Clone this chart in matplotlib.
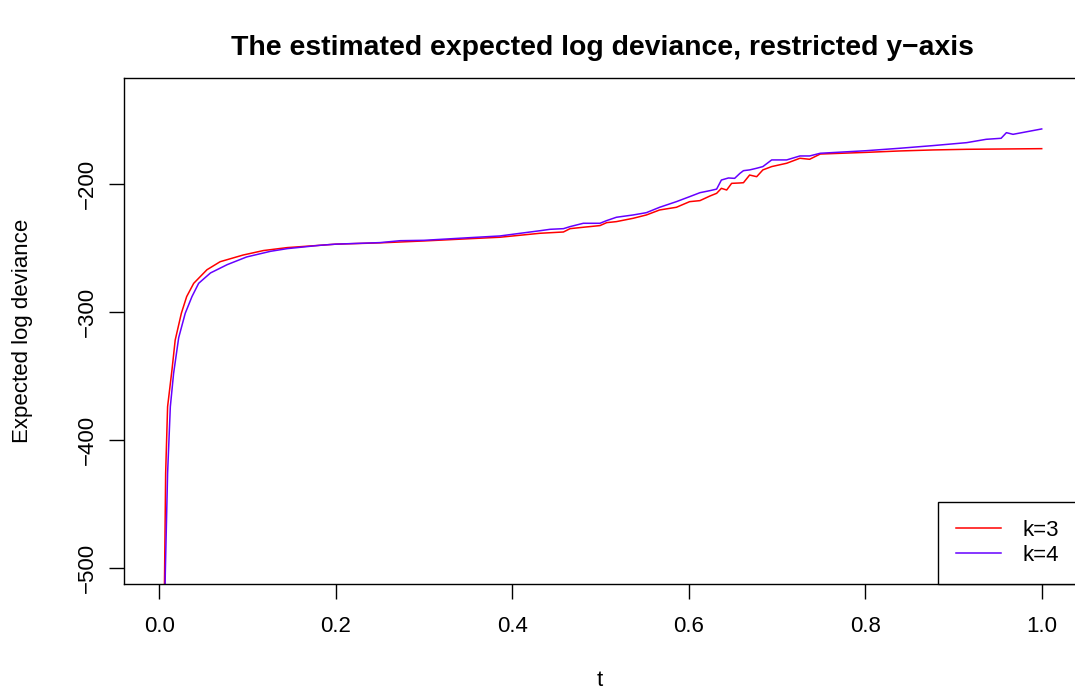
import matplotlib
matplotlib.use("Agg")
import matplotlib.pyplot as plt

plt.rcParams['font.family'] = ['Liberation Sans', 'DejaVu Sans']

# estimated expected log deviance, k=3
t_k3 = [0.005, 0.006, 0.0072, 0.0094, 0.0144, 0.018, 0.025, 0.031, 0.039, 0.054,
        0.069, 0.095, 0.118, 0.145, 0.182, 0.2, 0.25, 0.3, 0.35, 0.386,
        0.4315, 0.458, 0.4655, 0.4805, 0.4994, 0.507, 0.518, 0.537, 0.552, 0.567,
        0.586, 0.601, 0.6127, 0.624, 0.6316, 0.637, 0.643, 0.6486, 0.658, 0.662,
        0.669, 0.677, 0.684, 0.694, 0.711, 0.726, 0.737, 0.749, 0.801, 0.839,
        0.877, 0.915, 1.0]
dev_k3 = [-560, -504, -426, -374, -345, -322, -301, -288, -277.6, -267,
          -260.7, -255.5, -252, -249.7, -247.9, -247, -246, -244.5, -242.8, -241.6,
          -238.5, -237.5, -234.9, -233.8, -232.5, -230.2, -229.4, -226.8, -224.2, -220.3,
          -218.2, -213.8, -213, -209.4, -207.3, -203.4, -204.7, -199.5, -199.2, -199,
          -193, -194.3, -189, -186.4, -183.8, -179.9, -180.7, -176.6, -175.3, -174.2,
          -173.4, -172.9, -172.4]

# estimated expected log deviance, k=4
t_k4 = [0.0055, 0.0068, 0.0094, 0.0125, 0.0162, 0.022, 0.0294, 0.037, 0.0446, 0.058,
        0.077, 0.099, 0.126, 0.145, 0.182, 0.2, 0.25, 0.273, 0.3, 0.35,
        0.386, 0.4315, 0.443, 0.458, 0.4655, 0.4805, 0.4994, 0.507, 0.518, 0.537,
        0.552, 0.567, 0.586, 0.601, 0.6127, 0.624, 0.6316, 0.637, 0.645, 0.652,
        0.658, 0.662, 0.669, 0.677, 0.684, 0.694, 0.711, 0.726, 0.737, 0.749,
        0.801, 0.839, 0.877, 0.915, 0.937, 0.954, 0.96, 0.9675, 1.0]
dev_k4 = [-560, -504, -426, -374, -348, -320, -301, -288, -277.6, -269.5,
          -263, -257, -252.6, -250.5, -247.9, -247, -245.8, -244.3, -244, -242,
          -240.6, -236.5, -235.4, -234.9, -233.3, -230.7, -230.7, -228.6, -226, -224.2,
          -222.4, -218.2, -213.8, -209.9, -206.8, -205.2, -204, -196.9, -195.3, -195.6,
          -191.7, -189.6, -189, -187.7, -186.4, -181.2, -181.2, -178.1, -178.1, -176,
          -174, -172.1, -170, -167.7, -165.1, -164.3, -159.9, -161.2, -157]

x_ticks = [0.0, 0.2, 0.4, 0.6, 0.8, 1.0]
x_labels = ['0.0', '0.2', '0.4', '0.6', '0.8', '1.0']
y_ticks = [-500, -400, -300, -200]
y_labels = ['\u2212500', '\u2212400', '\u2212300', '\u2212200']

W, H = 1075, 693
fig = plt.figure(figsize=(W / 100, H / 100), dpi=100)
ax = fig.add_axes([124 / W, 1 - 584 / H, (1077 - 124) / W, (584 - 78) / H])

ax.plot(t_k3, dev_k3, color='#FF0000', lw=1.1, label='k=3')
ax.plot(t_k4, dev_k4, color='#6600FF', lw=1.1, label='k=4')

ax.set_xlim(-0.04, 1.04)
ax.set_ylim(-512.5, -117.2)
ax.set_xticks(x_ticks)
ax.set_xticklabels(x_labels)
ax.set_yticks(y_ticks)
ax.set_yticklabels(y_labels, rotation=90, va='center')
ax.tick_params(axis='both', length=10.8, width=1, labelsize=16, color='black')
ax.tick_params(axis='x', pad=12)
ax.tick_params(axis='y', pad=8)
for s in ax.spines.values():
    s.set_linewidth(1)
    s.set_color('black')

fig.text(602 / W, 1 - 48 / H, 'The estimated expected log deviance, restricted y\u2212axis',
         ha='center', va='center', weight='bold', size=20.4)
fig.text(23 / W, 1 - 331 / H, 'Expected log deviance', rotation=90,
         ha='center', va='center', size=16)
fig.text(600 / W, 1 - 680 / H, 't', ha='center', va='center', size=16)

leg = ax.legend(loc='lower right', borderaxespad=0, fancybox=False, edgecolor='black',
                framealpha=1, fontsize=16, handlelength=2.0, handletextpad=1.0,
                borderpad=0.8, labelspacing=0.2)
leg.get_frame().set_linewidth(1)

fig.savefig('out.png', dpi=100)
